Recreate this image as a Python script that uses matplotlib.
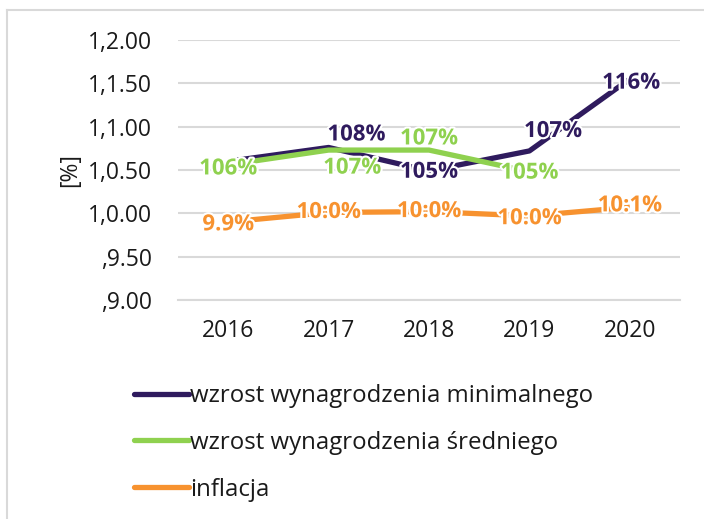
import matplotlib.pyplot as plt
import matplotlib.patheffects as pe
from matplotlib.lines import Line2D

YEARS = ["2016", "2017", "2018", "2019", "2020"]

MIN_WAGE = [1.060, 1.076, 1.049, 1.072, 1.155]
AVG_WAGE = [1.056, 1.073, 1.073, 1.048]
INFLATION = [0.990, 1.001, 1.002, 0.997, 1.007]

MIN_WAGE_LABELS = [None, "108%", "105%", "107%", "116%"]
AVG_WAGE_LABELS = ["106%", "107%", "107%", "105%"]
INFLATION_LABELS = ["9.9%", "10:0%", "10:0%", "10:0%", "10:1%"]

Y_TICKS = [0.90, 0.95, 1.00, 1.05, 1.10, 1.15, 1.20]
Y_TICK_LABELS = [",9.00", ",9.50", "1,0.00", "1,0.50", "1,1.00", "1,1.50", "1,2.00"]

SERIES_NAMES = [
    "wzrost wynagrodzenia minimalnego",
    "wzrost wynagrodzenia średniego",
    "inflacja",
]

PURPLE = "#2f1b5e"
GREEN = "#8fd14f"
ORANGE = "#f7922f"
GRID = "#d9d9d9"

plt.rcParams["font.family"] = ["Open Sans", "DejaVu Sans"]
plt.rcParams["font.size"] = 16.5

fig = plt.figure(figsize=(7.04, 5.19), dpi=100)
ax = fig.add_axes([178 / 704, 1 - 300 / 519, 502 / 704, 260 / 519])

x = list(range(len(YEARS)))

ax.plot(x, MIN_WAGE, color=PURPLE, lw=3.8, solid_capstyle="butt", zorder=3)
ax.plot(x[:len(AVG_WAGE)], AVG_WAGE, color=GREEN, lw=3.8, solid_capstyle="butt", zorder=3)
ax.plot(x, INFLATION, color=ORANGE, lw=3.8, solid_capstyle="butt", zorder=3)

halo = [pe.withStroke(linewidth=3, foreground="white")]


def put_labels(values, labels, color, offsets):
    for i, (v, lab) in enumerate(zip(values, labels)):
        if lab is None:
            continue
        dx, dy = offsets.get(i, (0, 0))
        ax.annotate(lab, (i, v), xytext=(dx, dy), textcoords="offset points",
                    ha="center", va="center", color=color, fontweight="bold",
                    fontsize=16, path_effects=halo, zorder=5)


put_labels(MIN_WAGE, MIN_WAGE_LABELS, PURPLE, {1: (20, 9), 2: (0, -1), 3: (17, 14), 4: (1, -3)})
put_labels(AVG_WAGE, AVG_WAGE_LABELS, GREEN, {0: (0, -3), 1: (17, -13), 2: (0, 8), 3: (0, -1)})
put_labels(INFLATION, INFLATION_LABELS, ORANGE, {0: (0, -2), 3: (0, -2), 4: (0, 1)})

ax.set_xlim(-0.5, len(YEARS) - 0.5)
ax.set_ylim(0.90, 1.20)
ax.set_xticks(x)
ax.set_xticklabels(YEARS)
ax.set_yticks(Y_TICKS)
ax.set_yticklabels(Y_TICK_LABELS)
ax.tick_params(axis="both", length=0, colors="#1a1a1a")
ax.tick_params(axis="x", pad=14)
ax.tick_params(axis="y", pad=19)

ax.grid(axis="y", color=GRID, lw=1.5)
ax.set_axisbelow(True)
for side in ["left", "right", "top"]:
    ax.spines[side].set_visible(False)
ax.spines["bottom"].set_color(GRID)
ax.spines["bottom"].set_linewidth(1.5)

fig.text(70 / 704, 1 - 170 / 519, "[%]", rotation=90, ha="center", va="center",
         color="#1a1a1a")

handles = [Line2D([], [], color=c, lw=3.8, solid_capstyle="round")
           for c in (PURPLE, GREEN, ORANGE)]
fig.legend(handles, SERIES_NAMES, loc="upper left",
           bbox_to_anchor=(122 / 704, 1 - 372 / 519), frameon=False,
           handlelength=2.3, handletextpad=0.05, labelspacing=0.95,
           borderpad=0, labelcolor="#1a1a1a", fontsize=17.3)

# light frame around the chart
fig.add_artist(Line2D([7.5 / 704, 7.5 / 704], [0, 1 - 9.5 / 519], color=GRID, lw=1.5))
fig.add_artist(Line2D([7.5 / 704, 1], [1 - 9.5 / 519, 1 - 9.5 / 519], color=GRID, lw=1.5))

fig.savefig("out.png", dpi=100)
